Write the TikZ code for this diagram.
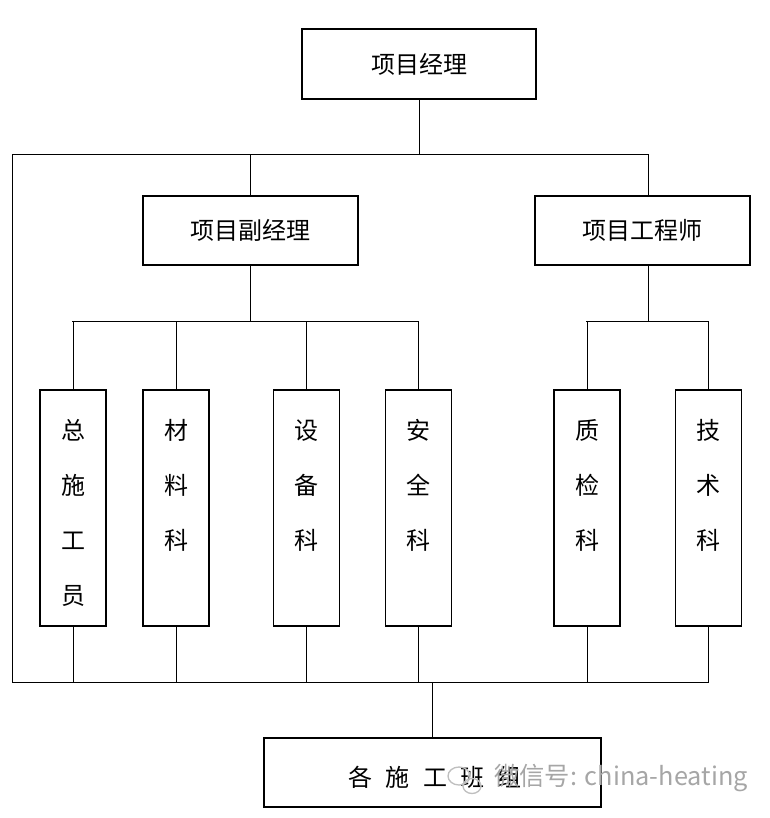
\documentclass[tikz,border=0pt]{standalone}
\usepackage{fontspec}
\newfontfamily\cjk{Noto Sans CJK SC}
\begin{document}
\begin{tikzpicture}[x=0.75pt,y=-0.75pt,
  box/.style={draw, line width=0.9pt, inner sep=0pt},
  hbox/.style={box, minimum width=161.25pt, minimum height=51.75pt},
  vbox/.style={box, minimum width=49.5pt, minimum height=177pt},
  conn/.style={line width=0.7pt},
  lab/.style={font=\cjk\fontsize{18}{20}\selectfont},
  vlab/.style={font=\cjk\fontsize{18}{41.25}\selectfont, align=center, inner sep=0pt},
  wm/.style={font=\cjk\fontsize{19}{21}\selectfont, text=black!35, inner sep=0pt}]
\useasboundingbox (0,0) rectangle (770,818);
% top level
\node[box, minimum width=175.5pt, minimum height=52.5pt, lab] (pm) at (419,64) {项目经理};
\node[hbox, lab] (dep) at (250.5,230.5) {项目副经理};
\node[hbox, lab] (eng) at (642.5,230.5) {项目工程师};
% vertical boxes
\node[vbox] (b1) at (73,508) {};
\node[vbox] (b2) at (176,508) {};
\node[vbox] (b3) at (306.5,508) {};
\node[vbox] (b4) at (418.5,508) {};
\node[vbox] (b5) at (587,508) {};
\node[vbox] (b6) at (708.5,508) {};
\node[vlab] (t1) at (73,513) {总\\施\\工\\员};
\node[vlab] (t2) at (176,513) {材\\料\\科\\\phantom{科}};
\node[vlab] (t3) at (306.5,513) {设\\备\\科\\\phantom{科}};
\node[vlab] (t4) at (418.5,513) {安\\全\\科\\\phantom{科}};
\node[vlab] (t5) at (587,513) {质\\检\\科\\\phantom{科}};
\node[vlab] (t6) at (708.5,513) {技\\术\\科\\\phantom{科}};
% bottom box
\node[box, minimum width=252.75pt, minimum height=51.75pt] (fb) at (432.5,772.5) {};
\node[lab, inner sep=0pt] (ft) at (435,777) {各\hspace{10pt}施\hspace{10pt}工\hspace{10pt}班\hspace{10pt}组};
% coordinates
\coordinate (busL) at (12,154);
\coordinate (busR) at (648,154);
\coordinate (bbL) at (12,682);
\coordinate (bbR) at (709,682);
\coordinate (m1L) at (72,321);
\coordinate (m1R) at (418,321);
\coordinate (m2L) at (586,321);
\coordinate (m2R) at (708,321);
% connectors
\draw[conn] (pm.south) -- (pm.south |- busL);
\draw[conn] (busL) -- (busR) -- (busR |- eng.north);
\draw[conn] (dep.north |- busL) -- (dep.north);
\draw[conn] (busL) -- (bbL) -- (bbR);
\draw[conn] (dep.south) -- (dep.south |- m1L);
\draw[conn] (m1L) -- (m1R);
\foreach \b in {b1,b2,b3,b4} \draw[conn] (\b.north |- m1L) -- (\b.north);
\draw[conn] (eng.south -| busR) -- (busR |- m2L);
\draw[conn] (m2L) -- (m2R);
\foreach \b in {b5,b6} \draw[conn] (\b.north |- m2L) -- (\b.north);
\foreach \b in {b1,b2,b3,b4,b5,b6} \draw[conn] (\b.south) -- (\b.south |- bbL);
\draw[conn] (fb.north |- bbL) -- (fb.north);
% watermark
\draw[black!25, line width=1pt] (459,776) ellipse (11 and 9);
\draw[black!25, line width=1pt] (472,786) ellipse (9 and 7.5);
\node[wm, anchor=west] (wmt) at (494,778) {微信号: china-heating};
\end{tikzpicture}
\end{document}
